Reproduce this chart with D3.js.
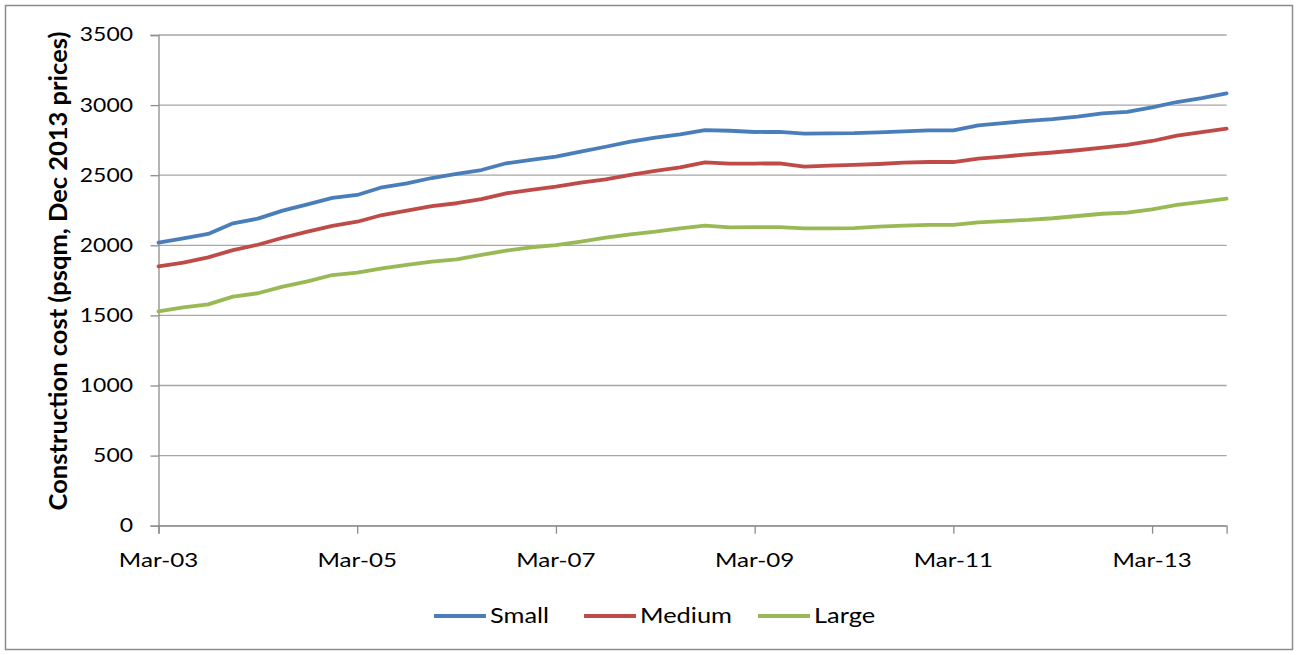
<!DOCTYPE html>
<html>
<head>
<meta charset="utf-8">
<script src="https://cdn.jsdelivr.net/npm/d3@7"></script>
<style>
  html, body { margin: 0; padding: 0; background: #fff; }
  svg { display: block; }
  text { font-family: Lato, "Open Sans", sans-serif; fill: #000; }
</style>
</head>
<body>
<div id="chart"></div>
<script>
// quarterly categories
var quarters = [
  'Mar-03', 'Jun-03', 'Sep-03', 'Dec-03', 'Mar-04', 'Jun-04', 'Sep-04', 'Dec-04',
  'Mar-05', 'Jun-05', 'Sep-05', 'Dec-05', 'Mar-06', 'Jun-06', 'Sep-06', 'Dec-06',
  'Mar-07', 'Jun-07', 'Sep-07', 'Dec-07', 'Mar-08', 'Jun-08', 'Sep-08', 'Dec-08',
  'Mar-09', 'Jun-09', 'Sep-09', 'Dec-09', 'Mar-10', 'Jun-10', 'Sep-10', 'Dec-10',
  'Mar-11', 'Jun-11', 'Sep-11', 'Dec-11', 'Mar-12', 'Jun-12', 'Sep-12', 'Dec-12',
  'Mar-13', 'Jun-13', 'Sep-13', 'Dec-13'
]
var xTickLabels = ['Mar-03', 'Mar-05', 'Mar-07', 'Mar-09', 'Mar-11', 'Mar-13']
var yTicks = [0, 500, 1000, 1500, 2000, 2500, 3000, 3500]

var small = [2019, 2050, 2081, 2157, 2190, 2247, 2292, 2338, 2359, 2414, 2442, 2480, 2509, 2537, 2585, 2609,
  2632, 2668, 2703, 2739, 2768, 2792, 2822, 2817, 2808, 2809, 2797, 2799, 2800, 2806, 2813, 2820,
  2820, 2856, 2872, 2887, 2900, 2918, 2941, 2951, 2984, 3022, 3049, 3084]
var medium = [1850, 1876, 1914, 1966, 2004, 2054, 2097, 2138, 2168, 2216, 2247, 2280, 2300, 2330, 2371, 2395,
  2418, 2447, 2471, 2502, 2530, 2556, 2592, 2583, 2583, 2585, 2561, 2568, 2573, 2580, 2589, 2594,
  2594, 2618, 2632, 2649, 2662, 2678, 2696, 2716, 2744, 2782, 2808, 2832]
var large = [1529, 1558, 1579, 1634, 1658, 1705, 1743, 1788, 1805, 1836, 1860, 1883, 1900, 1931, 1962, 1986,
  2002, 2026, 2054, 2078, 2097, 2121, 2140, 2128, 2130, 2130, 2121, 2121, 2123, 2133, 2140, 2145,
  2145, 2164, 2173, 2181, 2193, 2209, 2225, 2233, 2257, 2288, 2309, 2333]

var seriesNames = ['Small', 'Medium', 'Large']
var seriesColors = ['#4a7ebb', '#be4b48', '#98b954']

var width = 1298
var height = 655
var plot = { left: 158.5, right: 1226.6, top: 35, bottom: 525.7 }
var SX = 1.24 // the reference text looks stretched sideways

var svg = d3.select('#chart').append('svg').attr('width', width).attr('height', height)

// outer border
svg.append('rect')
  .attr('x', 5.5).attr('y', 5.5)
  .attr('width', 1287).attr('height', 644)
  .attr('fill', '#fff').attr('stroke', '#8c8c8c').attr('stroke-width', 1.5)

var xScale = d3.scalePoint().domain(quarters).range([plot.left, plot.right])
var yScale = d3.scaleLinear().domain([0, 3500]).range([plot.bottom, plot.top])

function stretchedText(g, x, y, str) {
  return g.append('g').attr('transform', `translate(${x},${y}) scale(${SX},1)`)
    .append('text').text(str)
}

// gridlines
svg.append('g').selectAll('line').data(yTicks).join('line')
  .attr('x1', plot.left).attr('x2', plot.right)
  .attr('y1', d => yScale(d)).attr('y2', d => yScale(d))
  .attr('stroke', '#a6a6a6').attr('stroke-width', 1.3)

// y axis
var yAxis = d3.axisLeft(yScale).tickValues(yTicks).tickSize(8).tickFormat('')
var gy = svg.append('g').attr('transform', `translate(${plot.left},0)`).call(yAxis)
gy.select('.domain').attr('stroke', '#8c8c8c').attr('stroke-width', 1.3)
gy.selectAll('.tick line').attr('stroke', '#8c8c8c').attr('stroke-width', 1.3)
var yLab = svg.append('g')
yTicks.forEach(function (v) {
  stretchedText(yLab, 133, yScale(v), v)
    .attr('text-anchor', 'end').attr('dy', '0.35em').style('font-size', '18.5px')
})

// x axis
var xAxis = d3.axisBottom(xScale).tickValues(xTickLabels).tickSize(8).tickFormat('')
var gx = svg.append('g').attr('transform', `translate(0,${plot.bottom})`).call(xAxis)
gx.select('.domain').attr('stroke', '#8c8c8c').attr('stroke-width', 1.3)
gx.selectAll('.tick line').attr('stroke', '#8c8c8c').attr('stroke-width', 1.3)
var xLab = svg.append('g')
xTickLabels.forEach(function (q) {
  stretchedText(xLab, xScale(q), 567, q)
    .attr('text-anchor', 'middle').style('font-size', '19.5px')
})

// axis title
svg.append('g').attr('transform', `translate(67,271) rotate(-90)`)
  .append('text').attr('text-anchor', 'middle')
  .style('font-size', '25.5px').style('font-weight', 'bold')
  .text('Construction  cost (psqm, Dec 2013 prices)')

// lines
var allSeries = [small, medium, large]
var line = d3.line().x((d, i) => xScale(quarters[i])).y(d => yScale(d))
svg.append('g').selectAll('path').data(allSeries).join('path')
  .attr('fill', 'none')
  .attr('stroke', (d, i) => seriesColors[i])
  .attr('stroke-width', 3.8)
  .attr('stroke-linejoin', 'round')
  .attr('stroke-linecap', 'round')
  .attr('d', line)

// legend
var legendX = [434, 584, 758]
var lg = svg.append('g')
seriesNames.forEach(function (name, i) {
  lg.append('line')
    .attr('x1', legendX[i]).attr('x2', legendX[i] + 52)
    .attr('y1', 616).attr('y2', 616)
    .attr('stroke', seriesColors[i]).attr('stroke-width', 4)
  stretchedText(lg, legendX[i] + 56, 616, name)
    .attr('dy', '0.35em').style('font-size', '20.5px')
})
</script>
</body>
</html>
